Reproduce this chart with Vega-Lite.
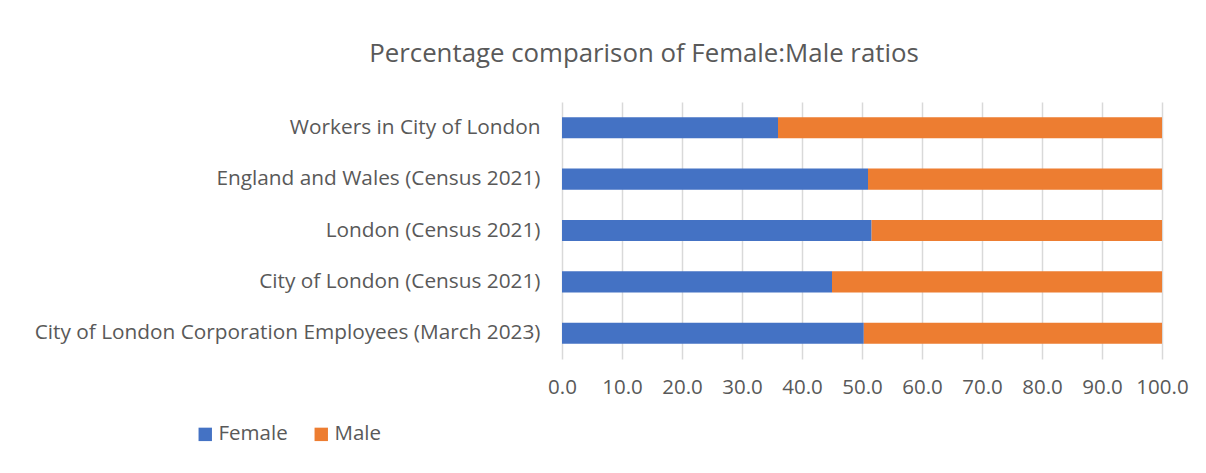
{
  "$schema": "https://vega.github.io/schema/vega-lite/v6.json",
  "width": 600,
  "height": 257,
  "autosize": {"type": "none"},
  "padding": {"left": 562, "top": 102, "right": 44, "bottom": 114},
  "background": "white",
  "title": {
    "text": "Percentage comparison of Female:Male ratios",
    "anchor": "middle",
    "frame": "group",
    "dx": -218,
    "offset": 34,
    "font": "Open Sans",
    "fontSize": 25.8,
    "fontWeight": "normal",
    "color": "#595959"
  },
  "data": {
    "values": [
      {"category": "Workers in City of London", "sex": "Female", "pct": 36.0, "ord": 1},
      {"category": "Workers in City of London", "sex": "Male", "pct": 64.0, "ord": 2},
      {"category": "England and Wales (Census 2021)", "sex": "Female", "pct": 51.0, "ord": 1},
      {"category": "England and Wales (Census 2021)", "sex": "Male", "pct": 49.0, "ord": 2},
      {"category": "London (Census 2021)", "sex": "Female", "pct": 51.6, "ord": 1},
      {"category": "London (Census 2021)", "sex": "Male", "pct": 48.4, "ord": 2},
      {"category": "City of London (Census 2021)", "sex": "Female", "pct": 45.0, "ord": 1},
      {"category": "City of London (Census 2021)", "sex": "Male", "pct": 55.0, "ord": 2},
      {"category": "City of London Corporation Employees (March 2023)", "sex": "Female", "pct": 50.3, "ord": 1},
      {"category": "City of London Corporation Employees (March 2023)", "sex": "Male", "pct": 49.7, "ord": 2}
    ]
  },
  "mark": {"type": "bar"},
  "encoding": {
    "y": {
      "field": "category",
      "type": "nominal",
      "sort": null,
      "title": null,
      "scale": {"paddingInner": 0.59, "paddingOuter": 0.295},
      "axis": {
        "domain": false,
        "ticks": false,
        "grid": false,
        "labelPadding": 22,
        "labelFont": "Open Sans",
        "labelFontSize": 20.8,
        "labelColor": "#595959",
        "labelLimit": 600
      }
    },
    "x": {
      "field": "pct",
      "type": "quantitative",
      "stack": "zero",
      "title": null,
      "scale": {"domain": [0, 100], "nice": false},
      "axis": {
        "values": [0, 10, 20, 30, 40, 50, 60, 70, 80, 90, 100],
        "format": ".1f",
        "domain": false,
        "ticks": false,
        "grid": true,
        "gridColor": "#d9d9d9",
        "gridWidth": 1.5,
        "labelPadding": 18,
        "labelFont": "Open Sans",
        "labelFontSize": 20.5,
        "labelColor": "#595959",
        "labelFlush": false
      }
    },
    "color": {
      "field": "sex",
      "type": "nominal",
      "scale": {"domain": ["Female", "Male"], "range": ["#4472C4", "#ED7D31"]},
      "legend": {
        "title": null,
        "orient": "none",
        "direction": "horizontal",
        "legendX": -367,
        "legendY": 322,
        "symbolType": "square",
        "symbolSize": 180,
        "symbolStrokeWidth": 0,
        "labelFont": "Open Sans",
        "labelFontSize": 20.5,
        "labelColor": "#595959",
        "columnPadding": 23,
        "labelOffset": 3
      }
    },
    "order": {"field": "ord", "type": "quantitative"}
  },
  "config": {
    "view": {"stroke": null}
  }
}
